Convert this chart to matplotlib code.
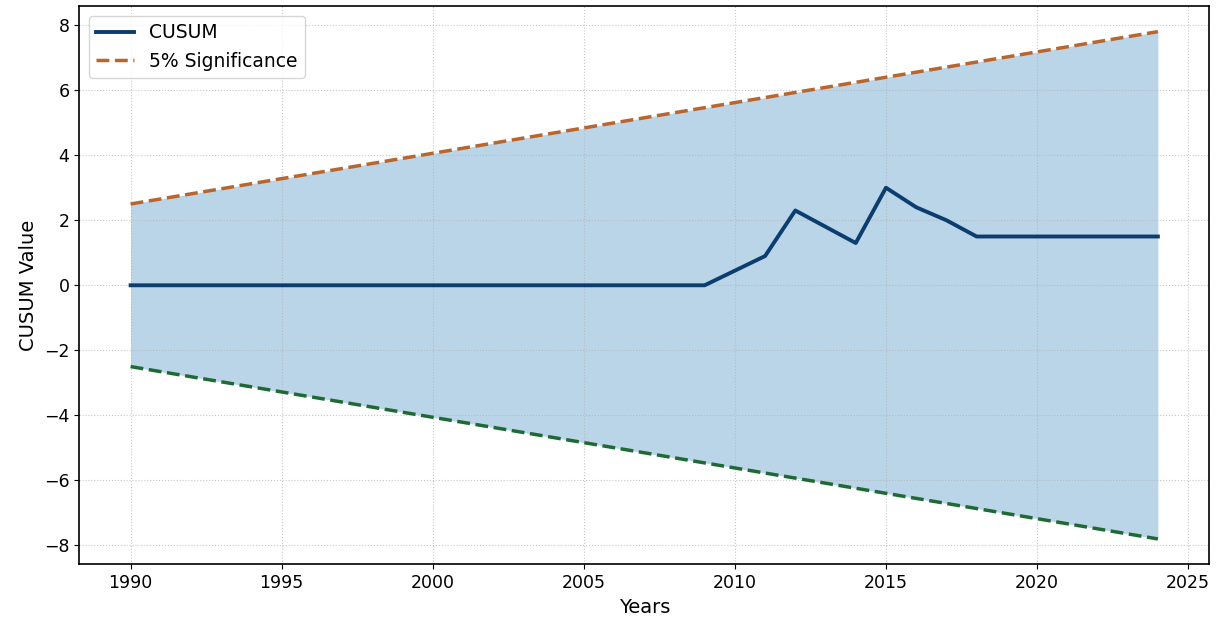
import matplotlib
matplotlib.use("Agg")
import matplotlib.pyplot as plt

# CUSUM statistic by year
years = list(range(1990, 2025))
cusum = [0.0] * 20 + [0.45, 0.9, 2.3, 1.8, 1.3, 3.0, 2.4, 2.0, 1.5, 1.5, 1.5, 1.5, 1.5, 1.5, 1.5]

# 5% significance bounds (straight lines between the end years)
bound_years = [1990, 2024]
upper_bound = [2.5, 7.8]
lower_bound = [-2.5, -7.8]

fig, ax = plt.subplots(figsize=(12.19, 6.27), dpi=100)

ax.fill_between(bound_years, lower_bound, upper_bound, color="tab:blue", alpha=0.3, linewidth=0)
ax.plot(bound_years, upper_bound, color="#b8652e", linestyle="--", linewidth=2.5, label="5% Significance")
ax.plot(bound_years, lower_bound, color="#1f6a34", linestyle="--", linewidth=2.5)
ax.plot(years, cusum, color="#0b3d6e", linewidth=2.8, label="CUSUM", zorder=3)

ax.set_xlabel("Years", fontsize=14)
ax.set_ylabel("CUSUM Value", fontsize=14)
ax.tick_params(labelsize=12.5)
ax.grid(True, linestyle=":", alpha=0.7)
handles, labels = ax.get_legend_handles_labels()
ax.legend(handles[::-1], labels[::-1], loc="upper left", fontsize=13.5)
for s in ax.spines.values():
    s.set_linewidth(1.2)

fig.subplots_adjust(left=0.065, right=0.992, top=0.99, bottom=0.1)
fig.savefig("out.png")
